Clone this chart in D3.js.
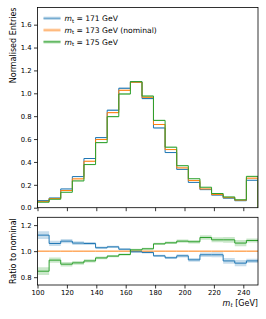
<!DOCTYPE html>
<html><head><meta charset="utf-8">
<script src="https://cdn.jsdelivr.net/npm/d3@7"></script>
<style>
html,body{margin:0;padding:0;background:#fff;}
text{font-family:"DejaVu Sans",sans-serif;}
</style></head>
<body><svg id="c" width="266" height="319"></svg>
<script>
// ---- data ----
const binEdges = [100, 107.9, 115.8, 123.7, 131.6, 139.5, 147.4, 155.3, 163.2, 171.1, 178.9, 186.8, 194.7, 202.6, 210.5, 218.4, 226.3, 234.2, 242.1, 250];
const legendMass = ["171", "173", "175"];
const legendSuffix = ["", " (nominal)", ""];
const hist171 = [0.062, 0.085, 0.164, 0.272, 0.430, 0.613, 0.852, 1.044, 1.100, 0.954, 0.697, 0.482, 0.335, 0.221, 0.158, 0.110, 0.083, 0.061, 0.240];
const hist173 = [0.055, 0.080, 0.150, 0.252, 0.406, 0.596, 0.831, 1.026, 1.097, 0.965, 0.727, 0.508, 0.348, 0.237, 0.164, 0.115, 0.088, 0.066, 0.258];
const hist175 = [0.048, 0.074, 0.135, 0.234, 0.377, 0.569, 0.796, 0.994, 1.102, 0.976, 0.763, 0.529, 0.367, 0.253, 0.179, 0.124, 0.094, 0.069, 0.274];
const histRelUnc = [0.025, 0.02, 0.015, 0.012, 0.01, 0.008, 0.007, 0.006, 0.006, 0.006, 0.007, 0.008, 0.01, 0.012, 0.013, 0.015, 0.017, 0.019, 0.012];
const ratio171 = [1.123, 1.059, 1.077, 1.062, 1.059, 1.026, 1.033, 1.015, 0.995, 0.990, 0.964, 0.949, 0.964, 0.933, 0.972, 0.972, 0.925, 0.908, 0.925];
const ratio175 = [0.846, 0.931, 0.900, 0.910, 0.925, 0.948, 0.962, 0.974, 1.010, 1.018, 1.056, 1.064, 1.077, 1.072, 1.105, 1.087, 1.087, 1.062, 1.082];
const ratioUnc = [0.03, 0.02, 0.017, 0.014, 0.012, 0.01, 0.009, 0.008, 0.008, 0.008, 0.009, 0.01, 0.012, 0.014, 0.017, 0.019, 0.022, 0.024, 0.016];
const yTicksMain = [0, 0.2, 0.4, 0.6, 0.8, 1.0, 1.2, 1.4, 1.6];
const yTicksRatio = [0.8, 1.0, 1.2];
const xTicks = [100, 120, 140, 160, 180, 200, 220, 240];
const colors = ["#1f77b4", "#ff7f0e", "#2ca02c"];

// ---- layout ----
const svg = d3.select("#c");
const L = 37.5, R = 258, T1 = 7.5, B1 = 207.7, T2 = 217.3, B2 = 285;
const x = d3.scaleLinear([100, 250], [L, R]);
const y1 = d3.scaleLinear([0, 1.75], [B1, T1]);
const y2 = d3.scaleLinear([0.74, 1.26], [B2, T2]);

const defs = svg.append("defs");
defs.append("clipPath").attr("id", "cp1").append("rect").attr("x", L).attr("y", T1).attr("width", R - L).attr("height", B1 - T1);
defs.append("clipPath").attr("id", "cp2").append("rect").attr("x", L).attr("y", T2).attr("width", R - L).attr("height", B2 - T2);

function stepPts(vals) {
  const p = vals.map((v, i) => [binEdges[i], v]);
  p.push([binEdges[binEdges.length - 1], vals[vals.length - 1]]);
  return p;
}
function bandPath(ys, lo, hi) {
  const area = d3.area().curve(d3.curveStepAfter)
    .x(d => x(d[0])).y0(d => ys(d[1])).y1(d => ys(d[2]));
  const pts = lo.map((v, i) => [binEdges[i], v, hi[i]]);
  pts.push([binEdges[binEdges.length - 1], lo[lo.length - 1], hi[hi.length - 1]]);
  return area(pts);
}

// ---- main panel ----
const g1 = svg.append("g").attr("clip-path", "url(#cp1)");
const hists = [hist171, hist173, hist175];
hists.forEach((h, k) => {
  g1.append("path").attr("d", bandPath(y1, h.map((v, i) => v * (1 - histRelUnc[i])), h.map((v, i) => v * (1 + histRelUnc[i]))))
    .attr("fill", colors[k]).attr("fill-opacity", 0.3).attr("stroke", "none");
});
const line1 = d3.line().x(d => x(d[0])).y(d => y1(d[1]));
hists.forEach((h, k) => {
  const outline = [[100, 0]];
  h.forEach((v, i) => { outline.push([binEdges[i], v]); outline.push([binEdges[i + 1], v]); });
  outline.push([250, 0]);
  g1.append("path").attr("d", line1(outline)).attr("fill", "none")
    .attr("stroke", colors[k]).attr("stroke-width", 1).attr("stroke-linejoin", "miter");
});

// axes main
svg.append("g").attr("transform", `translate(${L},0)`)
  .call(d3.axisLeft(y1).tickValues(yTicksMain).tickFormat(d3.format(".1f")).tickSizeOuter(0).tickSize(3.5).tickPadding(2.5));
svg.append("g").attr("transform", `translate(0,${B1})`)
  .call(d3.axisBottom(x).tickValues(xTicks).tickFormat("").tickSizeOuter(0).tickSize(3.5));
svg.append("rect").attr("x", L).attr("y", T1).attr("width", R - L).attr("height", B1 - T1)
  .attr("fill", "none").attr("stroke", "#000").attr("stroke-width", 0.8);

// legend
const lg = svg.append("g");
legendMass.forEach((m, k) => {
  const yy = 18.3 + k * 11.8;
  lg.append("rect").attr("x", 43.5).attr("y", yy - 1.6).attr("width", 17).attr("height", 3.2)
    .attr("fill", colors[k]).attr("fill-opacity", 0.3);
  lg.append("line").attr("x1", 43.5).attr("x2", 60.5).attr("y1", yy).attr("y2", yy)
    .attr("stroke", colors[k]).attr("stroke-width", 1).attr("stroke-opacity", k === 2 ? 1 : 0.55);
  const t = lg.append("text").attr("x", 64.5).attr("y", yy + 2.7).attr("font-size", 7.6).attr("fill", "#000");
  t.append("tspan").attr("font-style", "italic").text("m");
  t.append("tspan").attr("font-size", 5.3).attr("dy", 1.5).text("t");
  t.append("tspan").attr("dy", -1.5).text(" = " + m + " GeV" + legendSuffix[k]);
});

// y label main
svg.append("text").attr("transform", `translate(16,${T1}) rotate(-90)`)
  .attr("text-anchor", "end").attr("font-size", 8).attr("fill", "#000").text("Normalised Entries");

// ---- ratio panel ----
const g2 = svg.append("g").attr("clip-path", "url(#cp2)");
const ratios = [ratio171, null, ratio175];
ratios.forEach((r, k) => {
  if (!r) return;
  g2.append("path").attr("d", bandPath(y2, r.map((v, i) => v - ratioUnc[i]), r.map((v, i) => v + ratioUnc[i])))
    .attr("fill", colors[k]).attr("fill-opacity", 0.25).attr("stroke", "none");
});
const stepLine = d3.line().curve(d3.curveStepAfter).x(d => x(d[0])).y(d => y2(d[1]));
g2.append("path").attr("d", stepLine(stepPts(hist173.map(() => 1))))
  .attr("fill", "none").attr("stroke", colors[1]).attr("stroke-width", 1);
ratios.forEach((r, k) => {
  if (!r) return;
  g2.append("path").attr("d", stepLine(stepPts(r)))
    .attr("fill", "none").attr("stroke", colors[k]).attr("stroke-width", 1);
});

svg.append("g").attr("transform", `translate(${L},0)`)
  .call(d3.axisLeft(y2).tickValues(yTicksRatio).tickFormat(d3.format(".1f")).tickSizeOuter(0).tickSize(3.5).tickPadding(2.5));
svg.append("g").attr("transform", `translate(0,${B2})`)
  .call(d3.axisBottom(x).tickValues(xTicks).tickFormat(d3.format("d")).tickSizeOuter(0).tickSize(3.5).tickPadding(2));
svg.append("rect").attr("x", L).attr("y", T2).attr("width", R - L).attr("height", B2 - T2)
  .attr("fill", "none").attr("stroke", "#000").attr("stroke-width", 0.8);

svg.append("text").attr("transform", `translate(16,${(T2 + B2) / 2}) rotate(-90)`)
  .attr("text-anchor", "middle").attr("font-size", 8).attr("fill", "#000").text("Ratio to nominal");

const xl = svg.append("text").attr("x", R).attr("y", 305.5).attr("text-anchor", "end").attr("font-size", 8).attr("fill", "#000");
xl.append("tspan").attr("font-style", "italic").text("m");
xl.append("tspan").attr("font-style", "italic").attr("font-size", 5.6).attr("dy", 1.7).text("t");
xl.append("tspan").attr("dy", -1.7).text(" [GeV]");

// style axes
svg.selectAll(".domain").remove();
svg.selectAll(".tick line").attr("stroke", "#000").attr("stroke-width", 0.8);
svg.selectAll(".tick text").attr("font-size", 6.8).attr("fill", "#000").attr("font-family", "DejaVu Sans, sans-serif");
</script></body></html>
